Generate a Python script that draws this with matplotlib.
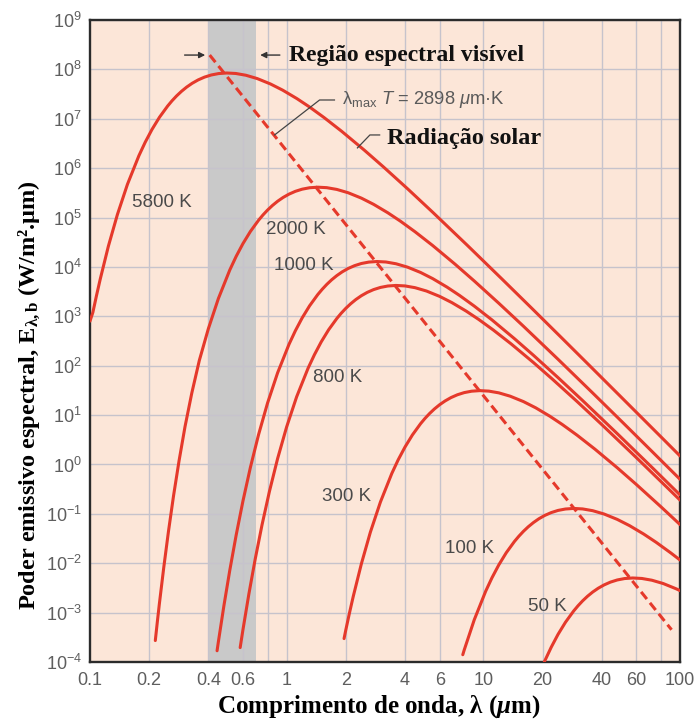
import matplotlib
matplotlib.use("Agg")
import matplotlib.pyplot as plt
from matplotlib.ticker import NullLocator

plt.rcParams['font.family'] = ['Liberation Sans', 'DejaVu Sans']
plt.rcParams['mathtext.fontset'] = 'custom'
plt.rcParams['mathtext.default'] = 'regular'
plt.rcParams['mathtext.it'] = 'Liberation Serif:italic:bold'
plt.rcParams['mathtext.sf'] = 'Liberation Sans:italic'

# wavelength (um) and spectral emissive power (W/m2.um)
wl_5800 = [0.1, 0.1034, 0.1079, 0.1128, 0.124, 0.1378, 0.155, 0.1772, 0.1908, 0.2067, 0.2255,
           0.2481, 0.2611, 0.2756, 0.2919, 0.3101, 0.3308, 0.3544, 0.3817, 0.4135, 0.451, 0.4961,
           0.5513, 0.6202, 0.7088, 0.8269, 0.9541, 1.128, 1.306, 1.55, 1.908, 2.481, 3.101, 4.135,
           5.513, 8.269, 12.4, 17.72, 24.81, 35.44, 49.61, 62.02, 82.69, 100]
E_5800 = [8.0e2, 1.198e3, 2.63e3, 5.72e3, 2.63e4, 1.147e5, 4.70e5, 1.781e6, 3.343e6, 6.09e6, 1.072e7,
          1.808e7, 2.307e7, 2.903e7, 3.597e7, 4.379e7, 5.23e7, 6.11e7, 6.96e7, 7.70e7, 8.23e7, 8.45e7,
          8.26e7, 7.61e7, 6.51e7, 5.07e7, 3.80e7, 2.557e7, 1.735e7, 1.057e7, 5.54e6, 2.318e6, 1.065e6, 3.77e5,
          1.293e5, 2.767e4, 5.76e3, 1.426e3, 378.6, 92.3, 24.28, 9.99, 3.18, 1.49]

wl_2000 = [0.2148, 0.2199, 0.2253, 0.2372, 0.2506, 0.2659, 0.2836, 0.3042, 0.3293, 0.3597, 0.3997,
           0.4496, 0.5139, 0.5534, 0.5995, 0.654, 0.7194, 0.7573, 0.7993, 0.8464, 0.8993, 0.9592,
           1.028, 1.107, 1.199, 1.308, 1.439, 1.599, 1.799, 2.055, 2.398, 2.767, 3.27, 3.786, 4.496,
           5.534, 7.194, 8.993, 11.99, 15.99, 23.98, 35.97, 51.39, 71.94, 100]
E_2000 = [2.72e-4, 6.43e-4, 1.512e-3, 8.25e-3, 0.0441, 0.2312, 1.178, 5.84, 27.9, 128.1, 558.9,
          2291, 8684, 1.630e4, 2.969e4, 5.224e4, 8.816e4, 1.125e5, 1.415e5, 1.754e5, 2.136e5, 2.550e5,
          2.979e5, 3.393e5, 3.752e5, 4.011e5, 4.118e5, 4.026e5, 3.709e5, 3.176e5, 2.473e5, 1.851e5, 1.247e5,
          8.457e4, 5.150e4, 2.701e4, 1.130e4, 5191, 1837, 630.4, 134.9, 28.06, 6.95, 1.846, 0.5016]

wl_1000 = [0.4427, 0.4496, 0.4796, 0.5139, 0.5534, 0.5995, 0.654, 0.7194, 0.7993, 0.8993, 1.028,
           1.107, 1.199, 1.308, 1.439, 1.515, 1.599, 1.693, 1.799, 1.918, 2.055, 2.214, 2.398, 2.616,
           2.878, 3.197, 3.597, 4.111, 4.796, 5.534, 6.54, 7.573, 8.993, 11.07, 14.39, 17.99, 23.98,
           31.97, 47.96, 71.94, 100]
E_1000 = [1.69e-4, 2.577e-4, 1.379e-3, 7.225e-3, 0.03681, 0.1825, 0.8721, 4.0, 17.47, 71.61, 271.4,
          509.3, 928.0, 1633, 2755, 3514, 4423, 5481, 6674, 7969, 9310, 1.060e4, 1.173e4, 1.253e4,
          1.287e4, 1.258e4, 1.159e4, 9922, 7727, 5784, 3896, 2643, 1610, 844.1, 353.2, 162.3, 57.4,
          19.70, 4.215, 0.877, 0.2418]

wl_800 = [0.5802, 0.5995, 0.6423, 0.6917, 0.7494, 0.8175, 0.8993, 0.9992, 1.124, 1.285, 1.384,
          1.499, 1.635, 1.799, 1.893, 1.998, 2.116, 2.248, 2.398, 2.569, 2.767, 2.998, 3.27, 3.597,
          3.997, 4.496, 5.139, 5.995, 6.917, 8.175, 9.466, 11.24, 13.84, 17.99, 22.48, 29.98, 39.97,
          59.95, 89.93, 100]
E_800 = [1.959e-4, 4.52e-4, 2.368e-3, 0.01207, 0.05979, 0.2858, 1.312, 5.724, 23.48, 88.93, 166.9,
         304.1, 535.1, 903.1, 1152, 1449, 1796, 2187, 2612, 3051, 3475, 3843, 4108, 4217,
         4123, 3799, 3252, 2532, 1896, 1277, 866.1, 527.8, 276.7, 115.7, 53.18, 18.81, 6.457,
         1.381, 0.2874, 0.19]

wl_300 = [1.958, 1.998, 2.085, 2.18, 2.398, 2.664, 2.998, 3.426, 3.689, 3.997, 4.36, 4.796, 5.048,
          5.329, 5.642, 5.995, 6.395, 6.851, 7.379, 7.993, 8.72, 9.592, 10.66, 11.99, 13.7, 15.99,
          18.45, 21.8, 25.24, 29.98, 36.89, 47.96, 59.95, 79.93, 100]
E_300 = [2.98e-4, 4.433e-4, 9.73e-4, 2.119e-3, 9.725e-3, 0.04243, 0.174, 0.6596, 1.238, 2.255, 3.967,
         6.696, 8.542, 10.75, 13.32, 16.22, 19.36, 22.62, 25.77, 28.50, 30.46, 31.27, 30.57, 28.18,
         24.11, 18.77, 14.06, 9.469, 6.422, 3.912, 2.051, 0.8582, 0.3943, 0.1395, 0.0608]

wl_100 = [7.862, 7.993, 8.993, 10.28, 11.07, 11.99, 13.08, 14.39, 15.15, 15.99, 16.93, 17.99, 19.18,
          20.55, 22.14, 23.98, 26.16, 28.78, 31.97, 35.97, 41.11, 47.96, 55.34, 65.4, 75.73, 89.93, 100]
E_100 = [1.405e-4, 1.747e-4, 7.161e-4, 2.714e-3, 5.093e-3, 9.28e-3, 0.01633, 0.02755, 0.03514, 0.04423,
         0.05481, 0.06674, 0.0797, 0.0931, 0.106, 0.1173, 0.1253, 0.1287, 0.1258, 0.1159, 0.09922,
         0.07727, 0.05784, 0.03896, 0.02643, 0.0161, 0.01163]

wl_50 = [19.85, 20.55, 22.14, 23.98, 26.16, 28.78, 30.29, 31.97, 33.85, 35.97, 38.37, 41.11, 44.27,
         47.96, 52.32, 57.55, 63.95, 71.94, 82.22, 95.92, 100]
E_50 = [7.66e-5, 1.06e-4, 1.99e-4, 3.626e-4, 6.379e-4, 1.076e-3, 1.373e-3, 1.728e-3, 2.141e-3, 2.608e-3,
        3.113e-3, 3.637e-3, 4.143e-3, 4.582e-3, 4.898e-3, 5.028e-3, 4.916e-3, 4.529e-3, 3.877e-3,
        3.019e-3, 2.79e-3]

curves = [(wl_5800, E_5800), (wl_2000, E_2000), (wl_1000, E_1000), (wl_800, E_800),
          (wl_300, E_300), (wl_100, E_100), (wl_50, E_50)]

# lambda_max * T = 2898 um.K line (end points)
wien_wl = [0.406, 90.6]
wien_E = [1.95e8, 4.5e-4]

x_ticks = [0.1, 0.2, 0.4, 0.6, 1, 2, 4, 6, 10, 20, 40, 60, 100]
x_labels = ['0.1', '0.2', '0.4', '0.6', '1', '2', '4', '6', '10', '20', '40', '60', '100']
x_grid = [0.2, 0.4, 0.6, 0.8, 1, 2, 4, 6, 10, 20, 40, 60, 80]
y_exps = list(range(-4, 10))

red = '#e5392b'
gray_txt = '#4a4a4a'

fig = plt.figure(figsize=(6.95, 7.22), dpi=100)
ax = fig.add_axes([0.1295, 0.0831, 0.8489, 0.8892])
ax.set_xscale('log')
ax.set_yscale('log')
ax.set_xlim(0.1, 100)
ax.set_ylim(1e-4, 1e9)
ax.set_facecolor('#fce6d8')

ax.axvspan(0.4, 0.7, color='#c9c9c9', zorder=0.5, lw=0)
for g in x_grid:
    ax.axvline(g, color='#c6c3cc', lw=1.0, zorder=0.8)
for e in y_exps:
    ax.axhline(10.0 ** e, color='#c6c3cc', lw=1.0, zorder=0.8)

for wl, E in curves:
    ax.plot(wl, E, color=red, lw=2.2, solid_capstyle='round', solid_joinstyle='round', zorder=3)
ax.plot(wien_wl, wien_E, color=red, lw=2.2, dashes=(3, 1.6), zorder=3)

ax.xaxis.set_minor_locator(NullLocator())
ax.yaxis.set_minor_locator(NullLocator())
ax.set_xticks(x_ticks)
ax.set_xticklabels(x_labels)
ax.set_yticks([10.0 ** e for e in y_exps])
ax.set_yticklabels(['$10^{%d}$' % e for e in y_exps])
ax.tick_params(length=0, labelsize=13, labelcolor='#5e5e5e')
ax.tick_params(axis='x', pad=7)
ax.tick_params(axis='y', pad=6)
for s in ax.spines.values():
    s.set_color('#2b2b2b')
    s.set_linewidth(1.7)

# curve labels
lab_kw = dict(fontsize=13.5, color=gray_txt, ha='center', va='center', zorder=4)
ax.text(0.232, 2e5, '5800 K', **lab_kw)
ax.text(1.12, 5.6e4, '2000 K', **lab_kw)
ax.text(1.22, 1.05e4, '1000 K', **lab_kw)
ax.text(1.82, 59, '800 K', **lab_kw)
ax.text(2.02, 0.22, '300 K', **lab_kw)
ax.text(8.49, 0.0195, '100 K', **lab_kw)
ax.text(21.1, 1.3e-3, '50 K', **lab_kw)

# visible region
arr = dict(arrowstyle='-|>', color='#333333', lw=1.0, mutation_scale=9)
ax.annotate('', xy=(0.398, 1.95e8), xytext=(0.293, 1.95e8), arrowprops=arr, zorder=4)
ax.annotate('', xy=(0.71, 1.95e8), xytext=(0.954, 1.95e8), arrowprops=arr, zorder=4)
ax.text(1.03, 1.95e8, 'Região espectral visível', family='Liberation Serif',
        fontweight='bold', fontsize=17, ha='left', va='center', color='#111111')

# Wien label
ax.plot([0.868, 1.47, 1.75], [4.7e6, 2.4e7, 2.4e7], color='#444444', lw=0.9, zorder=4)
ax.text(1.92, 2.4e7, r'λ$_{max}$ $\mathsf{T}$ = 2898 $\mathsf{\mu}$m·K', fontsize=13.2,
        color='#5a5a5a', ha='left', va='center')

# solar radiation label
ax.plot([2.29, 2.65, 2.97], [2.57e6, 4.7e6, 4.7e6], color='#444444', lw=0.9, zorder=4)
ax.text(3.22, 3.9e6, 'Radiação solar', family='Liberation Serif', fontweight='bold',
        fontsize=17.5, ha='left', va='center', color='#111111')

fig.text(0.545, 0.022, r'Comprimento de onda, λ ($\mathit{\mu}$m)', family='Liberation Serif',
         fontweight='bold', fontsize=18, ha='center', va='center')
fig.text(0.043, 0.453, 'Poder emissivo espectral, E$_{λ,b}$ (W/m².μm)', family='Liberation Serif',
         fontweight='bold', fontsize=17.5, ha='center', va='center', rotation=90)

fig.savefig('out.png', dpi=100)
